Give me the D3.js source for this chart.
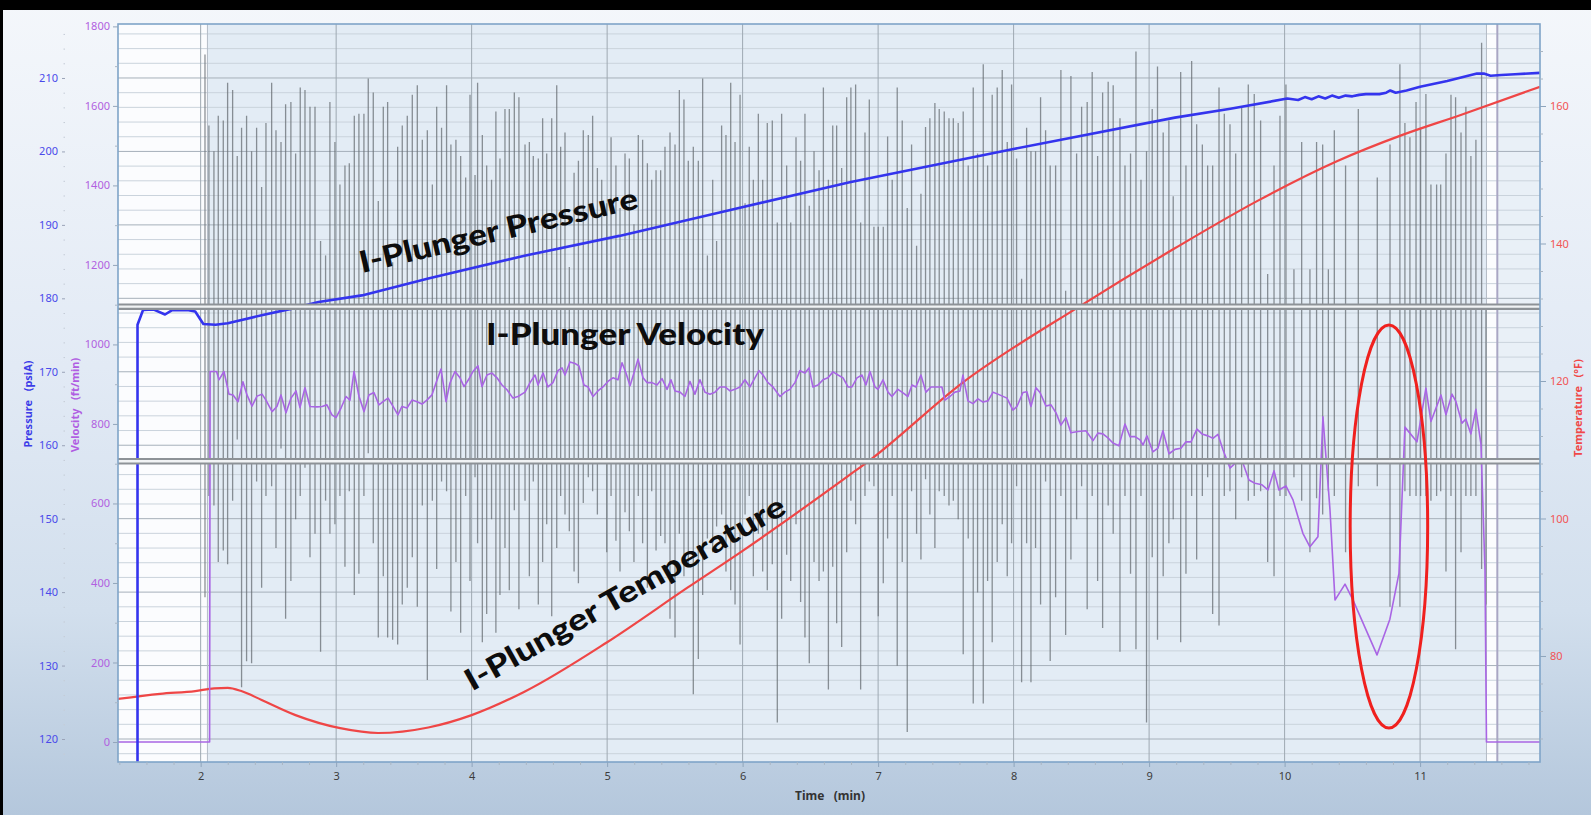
<!DOCTYPE html>
<html><head><meta charset="utf-8">
<script src="https://cdn.jsdelivr.net/npm/d3@7"></script>
<style>
body{margin:0;overflow:hidden;background:#fff}
svg{display:block}
.tick text{font-family:"Noto Sans","DejaVu Sans",sans-serif;font-size:11px}
</style>
</head><body>
<svg id="chart" width="1591" height="815"></svg>
<script>
// ---------------- DATA ----------------
const timeTicks = [2,3,4,5,6,7,8,9,10,11];
const pressureTicks = [120,130,140,150,160,170,180,190,200,210];
const velocityTicks = [0,200,400,600,800,1000,1200,1400,1600,1800];
const temperatureTicks = [80,100,120,140,160];

// Pressure (psiA) vs time (min)
const pressureData = [[1.534,116.9],[1.534,176.4],[1.575,178.4],[1.65,178.5],[1.737,177.8],[1.79,178.4],[1.9,178.4],[1.96,178.2],[2.02,176.5],[2.11,176.4],[2.2,176.6],[2.45,177.7],[2.7,178.7],[2.87,179.5],[3.19,180.4],[3.68,182.7],[4.39,185.8],[5.09,188.5],[5.83,191.7],[6.79,195.8],[7.99,200.3],[9.19,204.6],[9.6,205.8],[10.02,207.2],[10.1,207.0],[10.15,207.4],[10.2,207.1],[10.25,207.5],[10.3,207.2],[10.35,207.6],[10.4,207.3],[10.45,207.6],[10.5,207.5],[10.55,207.7],[10.6,207.8],[10.7,207.8],[10.75,208.0],[10.78,208.3],[10.82,208.0],[10.9,208.3],[11.0,208.8],[11.2,209.6],[11.42,210.6],[11.47,210.6],[11.52,210.3],[11.6,210.4],[11.7,210.5],[11.885,210.7]];

// Velocity (ft/min) vs time (min)
const velocityData = [[1.39,0],[2.066,0],[2.07,932],[2.118,932],[2.135,911],[2.172,932],[2.209,875],[2.239,873],[2.276,856],[2.312,906],[2.342,873],[2.379,845],[2.416,870],[2.453,875],[2.482,860],[2.527,831],[2.563,844],[2.593,873],[2.63,828],[2.667,865],[2.704,883],[2.733,841],[2.77,891],[2.807,844],[2.859,843],[2.896,844],[2.932,848],[2.969,823],[2.999,816],[3.036,840],[3.073,869],[3.102,860],[3.132,932],[3.169,869],[3.206,831],[3.242,873],[3.279,879],[3.316,848],[3.346,856],[3.383,865],[3.42,844],[3.456,823],[3.486,844],[3.523,840],[3.56,860],[3.597,856],[3.634,850],[3.67,860],[3.707,873],[3.737,903],[3.774,938],[3.811,856],[3.84,903],[3.877,932],[3.914,916],[3.944,894],[3.98,913],[4.01,932],[4.047,946],[4.076,894],[4.113,923],[4.15,928],[4.187,916],[4.224,898],[4.261,886],[4.305,865],[4.342,869],[4.394,880],[4.431,904],[4.468,923],[4.49,898],[4.527,928],[4.563,893],[4.6,904],[4.637,934],[4.667,941],[4.689,923],[4.726,956],[4.763,952],[4.792,946],[4.829,898],[4.859,893],[4.896,869],[4.932,883],[4.969,893],[5.006,907],[5.043,916],[5.08,911],[5.11,954],[5.139,928],[5.169,896],[5.198,928],[5.228,963],[5.265,916],[5.294,904],[5.331,904],[5.368,898],[5.405,914],[5.442,887],[5.471,911],[5.501,883],[5.538,880],[5.574,869],[5.611,907],[5.648,875],[5.685,911],[5.722,880],[5.759,875],[5.796,880],[5.833,893],[5.87,893],[5.907,883],[5.943,887],[5.98,893],[6.017,911],[6.054,893],[6.091,916],[6.121,934],[6.15,923],[6.187,904],[6.224,893],[6.276,869],[6.312,880],[6.349,887],[6.386,904],[6.423,934],[6.46,928],[6.49,941],[6.519,893],[6.556,898],[6.593,911],[6.63,916],[6.667,931],[6.704,923],[6.741,916],[6.778,893],[6.807,893],[6.844,916],[6.881,923],[6.91,898],[6.94,932],[6.977,893],[6.999,887],[7.036,911],[7.073,880],[7.102,869],[7.146,887],[7.176,880],[7.22,869],[7.25,898],[7.279,893],[7.316,923],[7.353,880],[7.39,893],[7.434,893],[7.471,893],[7.493,860],[7.53,869],[7.567,880],[7.604,883],[7.626,923],[7.663,858],[7.7,851],[7.737,863],[7.774,855],[7.811,858],[7.848,880],[7.884,875],[7.951,865],[7.995,835],[8.025,844],[8.069,879],[8.098,881],[8.128,844],[8.165,891],[8.195,879],[8.239,845],[8.276,848],[8.313,828],[8.349,797],[8.386,816],[8.423,778],[8.475,781],[8.534,783],[8.586,758],[8.622,777],[8.659,775],[8.696,765],[8.733,752],[8.777,745],[8.822,800],[8.859,768],[8.896,768],[8.933,760],[8.955,747],[8.984,770],[9.028,730],[9.065,739],[9.102,783],[9.147,725],[9.191,736],[9.235,739],[9.272,755],[9.309,755],[9.353,787],[9.39,775],[9.434,770],[9.471,764],[9.508,774],[9.545,735],[9.597,689],[9.634,701],[9.693,701],[9.737,659],[9.781,651],[9.833,647],[9.877,634],[9.922,682],[9.958,634],[10.01,644],[10.062,609],[10.098,567],[10.135,525],[10.187,491],[10.246,516],[10.283,818],[10.305,718],[10.335,584],[10.372,357],[10.446,397],[10.505,357],[10.682,219],[10.777,309],[10.844,424],[10.888,792],[10.977,755],[11.043,890],[11.08,806],[11.154,873],[11.191,823],[11.235,875],[11.265,856],[11.309,802],[11.338,812],[11.375,775],[11.412,837],[11.449,750],[11.479,433],[11.49,0],[11.885,0]];

// Temperature (°F) vs time (min)
const temperatureData = [[1.39,73.75],[1.7,74.5],[1.96,74.9],[2.1,75.3],[2.2,75.35],[2.3,74.9],[2.45,73.6],[2.7,71.4],[3.03,69.5],[3.31,68.8],[3.68,69.6],[4.0,71.4],[4.39,74.8],[5.0,82.0],[5.59,89.9],[6.0,95.3],[6.78,106.2],[6.94,108.5],[7.62,119.7],[8.49,130.9],[9.19,139.3],[9.8,146.2],[10.39,152.0],[10.87,155.8],[11.3,158.7],[11.885,162.8]];

// Gray vibration spikes: [time, high, low] on the velocity scale
const spikeData = [[2.032,1729,364],[2.061,1551,619],[2.098,1486,595],[2.13,1575,453],[2.167,1563,482],[2.199,1658,447],[2.236,1640,607],[2.27,1474,761],[2.302,1545,138],[2.339,1575,203],[2.376,1486,198],[2.413,1545,655],[2.45,1396,388],[2.482,1557,619],[2.524,1658,643],[2.556,1539,488],[2.593,1509,738],[2.627,1604,310],[2.666,1610,405],[2.701,1480,560],[2.735,1646,619],[2.77,1640,690],[2.807,1598,465],[2.844,1598,524],[2.885,1260,227],[2.922,1224,607],[2.954,1610,524],[2.991,1509,548],[3.028,1402,619],[3.065,1450,441],[3.097,1456,631],[3.134,1575,370],[3.168,1580,423],[3.205,1580,619],[3.237,1669,726],[3.274,1634,500],[3.311,1361,263],[3.348,1598,417],[3.38,1610,263],[3.417,1207,257],[3.454,1497,245],[3.488,1551,346],[3.525,1575,388],[3.562,1628,465],[3.599,1652,340],[3.636,1515,595],[3.673,1539,156],[3.71,1402,607],[3.742,1598,435],[3.778,1545,655],[3.815,1652,631],[3.847,1503,328],[3.884,1515,453],[3.919,1474,275],[3.956,1420,619],[3.988,1628,405],[4.025,1426,666],[4.044,1658,500],[4.079,1527,251],[4.111,1450,322],[4.147,1414,560],[4.179,1586,275],[4.209,1468,370],[4.246,1592,488],[4.278,1592,382],[4.315,1634,583],[4.349,1622,334],
[4.394,1503,607],[4.426,1509,417],[4.455,1474,655],[4.492,1468,346],[4.524,1569,453],[4.554,1480,548],[4.591,1569,316],[4.628,1652,488],[4.657,1497,619],[4.689,1533,572],[4.721,1195,530],[4.756,1432,429],[4.788,1462,399],[4.824,1539,601],[4.861,1527,666],[4.893,1575,631],[4.928,1444,572],[4.96,1414,702],[4.997,1355,477],[5.029,1521,619],[5.065,1450,506],[5.095,1343,429],[5.132,1480,578],[5.164,1468,530],[5.198,1302,453],[5.23,1527,619],[5.262,1515,500],[5.297,1456,388],[5.329,1414,631],[5.361,1438,482],[5.395,1438,518],[5.427,1497,500],[5.464,1533,310],[5.501,1503,263],[5.533,1640,524],[5.567,1616,417],[5.599,1462,441],[5.636,1497,120],[5.673,1462,209],[5.705,1669,370],[5.74,1224,512],[5.779,1414,477],[5.808,1260,542],[5.845,1551,572],[5.877,1527,429],[5.912,1658,382],[5.944,1509,346],[5.981,1628,245],[6.018,1355,572],[6.049,1497,619],[6.079,1414,417],[6.116,1580,524],[6.148,1414,429],[6.182,1557,382],[6.219,1563,447],[6.256,1307,49],[6.288,1580,310],[6.325,1450,471],[6.355,1307,405],[6.394,1521,548],[6.428,1462,352],[6.46,1580,263],[6.492,1349,198],[6.527,1486,453],[6.564,1438,405],[6.596,1646,429],[6.633,1414,132],[6.665,1551,441],[6.694,1551,299],[6.731,1444,239],[6.768,1622,477],
[6.799,1646,607],[6.834,1654,548],[6.871,1307,132],[6.903,1533,619],[6.935,1616,655],[6.969,1296,643],[7.001,1296,316],[7.038,1296,399],[7.07,1523,512],[7.104,1414,619],[7.141,1646,192],[7.178,1563,453],[7.215,1343,25],[7.247,1503,631],[7.284,1248,524],[7.316,1379,459],[7.35,1547,661],[7.382,1569,572],[7.419,1607,488],[7.451,1592,631],[7.488,1586,619],[7.523,1569,595],[7.555,1569,607],[7.591,1557,560],[7.628,1586,221],[7.665,1450,512],[7.702,1646,97],[7.734,1480,376],[7.776,1705,97],[7.808,1450,405],[7.842,1628,251],[7.879,1646,453],[7.916,1690,548],[7.953,1509,417],[7.985,1654,500],[8.022,1468,643],[8.059,1165,150],[8.096,1545,500],[8.128,1486,150],[8.162,1486,488],[8.199,1622,346],[8.236,1539,655],[8.27,1450,204],[8.31,1450,364],[8.349,1690,619],[8.384,1135,269],[8.423,1675,459],[8.465,1480,560],[8.502,1598,643],[8.543,1610,334],[8.58,1685,619],[8.62,1474,405],[8.657,1634,287],[8.698,1661,595],[8.735,1652,524],[8.785,1569,227],[8.822,1450,619],[8.863,1480,423],[8.903,1737,233],[8.94,1414,619],[8.981,1486,49],[9.023,1592,465],[9.062,1699,257],[9.104,1533,417],[9.146,1563,500],[9.178,1373,560],
[9.233,1685,251],[9.272,1450,423],[9.314,1713,619],[9.351,1554,459],[9.393,1503,619],[9.432,1450,666],[9.469,1450,322],[9.516,1646,293],[9.555,1580,619],[9.597,1554,631],[9.639,1480,560],[9.683,1595,666],[9.732,1654,607],[9.776,1630,619],[9.823,1563,631],[9.875,1177,453],[9.922,1450,417],[9.966,1575,619],[10.01,1654,619],[10.069,1189,666],[10.126,1509,607],[10.187,1189,477],[10.236,1509,613],[10.281,1503,572],[10.323,1189,631],[10.367,1539,619],[10.45,1450,477],[10.544,1592,643],[10.684,1420,643],[10.778,1503,340],[10.851,1705,340],[10.888,1557,631],[10.925,1521,619],[10.97,1610,619],[11.004,1545,619],[11.043,1630,619],[11.08,1402,607],[11.122,1402,619],[11.152,1402,631],[11.191,1480,429],[11.228,1628,619],[11.262,1622,233],[11.302,1533,477],[11.338,1598,619],[11.375,1474,619],[11.412,1515,619],[11.454,1759,435],[11.486,1094,346]];

// Active (shaded) period and event markers (min)
const activePeriod = [2.05, 11.49];
const afterPeriod = [11.57, 11.885];
const eventMarkers = [2.05, 11.49, 11.57];
// Panel dividers on velocity scale (ft/min)
const dividerLevels = [1095, 706];

const annotationLabels = ["I-Plunger Pressure", "I-Plunger Velocity", "I-Plunger Temperature"];
const annotationTimes = [3.191, 4.106, 4.003];
const annotationValues = [183.45, 999, 74.84];
const annotationAxes = ["pressure", "velocity", "temperature"];

// Highlighted velocity dip (time, velocity, half-width in min, half-height in ft/min)
const highlight = {t: 10.77, v: 542, dt: 0.286, dv: 507};

// ---------------- LAYOUT ----------------
const W = 1591, H = 815;
const P = {left:118, top:24, right:1540, bottom:762};
const x = d3.scaleLinear().domain([1.39, 11.885]).range([P.left, P.right]);
const yP = d3.scaleLinear().domain([116.87, 217.35]).range([P.bottom, P.top]);
const yV = d3.scaleLinear().domain([-50.3, 1806]).range([P.bottom, P.top]);
const yT = d3.scaleLinear().domain([64.58, 171.93]).range([P.bottom, P.top]);
const scaleOf = {pressure: yP, velocity: yV, temperature: yT};

const svg = d3.select("#chart");
const defs = svg.append("defs");
const grad = defs.append("linearGradient").attr("id","bg").attr("x1",0).attr("y1",0).attr("x2",0).attr("y2",1);
[[0,"#f4f7fb"],[0.45,"#e2eaf5"],[0.75,"#d2dfed"],[1,"#b4c7dc"]].forEach(([o,c]) => grad.append("stop").attr("offset",o).attr("stop-color",c));
defs.append("clipPath").attr("id","clip").append("rect")
  .attr("x",P.left).attr("y",P.top).attr("width",P.right-P.left).attr("height",P.bottom-P.top);

svg.append("rect").attr("width",W).attr("height",H).attr("fill","url(#bg)");
svg.append("rect").attr("width",W).attr("height",10).attr("fill","#000");
svg.append("rect").attr("width",3).attr("height",H).attr("fill","#000");

// plot background
const plotG = svg.append("g").attr("clip-path","url(#clip)");
plotG.append("rect").attr("x",P.left).attr("y",P.top).attr("width",P.right-P.left).attr("height",P.bottom-P.top).attr("fill","#fbfcfe");
plotG.append("rect").attr("x",x(activePeriod[0])).attr("y",P.top).attr("width",x(activePeriod[1])-x(activePeriod[0])).attr("height",P.bottom-P.top).attr("fill","#e3ecf5");
plotG.append("rect").attr("x",x(afterPeriod[0])).attr("y",P.top).attr("width",x(afterPeriod[1])-x(afterPeriod[0])).attr("height",P.bottom-P.top).attr("fill","#e9f0f7");

// horizontal grid (pressure, every 2 / 10 psi)
const pGrid = yP.ticks(50);
plotG.selectAll(".hgrid").data(pGrid).join("line")
  .attr("x1",P.left).attr("x2",P.right)
  .attr("y1",d=>yP(d)).attr("y2",d=>yP(d))
  .attr("stroke",d=> d%10===0 ? "#a6b0ba" : "#cad3dc")
  .attr("stroke-width",1);
// vertical grid
plotG.selectAll(".vgrid").data(timeTicks).join("line")
  .attr("x1",d=>x(d)).attr("x2",d=>x(d)).attr("y1",P.top).attr("y2",P.bottom)
  .attr("stroke","#9ea8b2").attr("stroke-width",1);
// event markers
plotG.selectAll(".evt").data(eventMarkers).join("line")
  .attr("x1",d=>x(d)).attr("x2",d=>x(d)).attr("y1",P.top).attr("y2",P.bottom)
  .attr("stroke",(d,i)=> i===2 ? "#a9a6c4" : "#b4bcc6").attr("stroke-width",(d,i)=> i===2 ? 2 : 1);

// spikes
plotG.selectAll(".spike").data(spikeData).join("line")
  .attr("x1",d=>x(d[0])).attr("x2",d=>x(d[0]))
  .attr("y1",d=>yV(d[1])).attr("y2",d=>yV(d[2]))
  .attr("stroke","#676d73").attr("stroke-opacity",0.75).attr("stroke-width",1.3);

// series lines
const line = (ys) => d3.line().x(d=>x(d[0])).y(d=>ys(d[1]));
plotG.append("path").datum(temperatureData).attr("d", line(yT).curve(d3.curveMonotoneX))
  .attr("fill","none").attr("stroke","#ef4646").attr("stroke-width",2.2);
plotG.append("path").datum(velocityData).attr("d", line(yV))
  .attr("fill","none").attr("stroke","#a965e4").attr("stroke-width",1.6).attr("stroke-linejoin","round");
plotG.append("path").datum(pressureData).attr("d", line(yP))
  .attr("fill","none").attr("stroke","#3434ee").attr("stroke-width",2.6).attr("stroke-linejoin","round");

// dividers
dividerLevels.forEach(v => {
  plotG.append("line").attr("x1",P.left).attr("x2",P.right).attr("y1",yV(v)).attr("y2",yV(v))
    .attr("stroke","#8d9297").attr("stroke-width",6.5);
  plotG.append("line").attr("x1",P.left).attr("x2",P.right).attr("y1",yV(v)).attr("y2",yV(v))
    .attr("stroke","#f1f3f5").attr("stroke-width",2.4);
});

// plot border
svg.append("rect").attr("x",P.left).attr("y",P.top).attr("width",P.right-P.left).attr("height",P.bottom-P.top)
  .attr("fill","none").attr("stroke","#7fa4c8").attr("stroke-width",1.6);

// ---------------- AXES ----------------
function styleAxis(g, color, lineColor){
  g.select(".domain").remove();
  g.selectAll(".tick line").attr("stroke", lineColor);
  g.selectAll(".tick text").attr("fill", color);
}
// pressure
svg.append("g").attr("transform","translate(65,0)")
  .call(d3.axisLeft(yP).tickValues(pressureTicks).tickSize(3).tickPadding(4).tickFormat(d3.format("d")))
  .call(g=>styleAxis(g,"#4a4aea","#9aa3b8"));
svg.append("g").attr("transform","translate(65,0)")
  .call(d3.axisLeft(yP).tickValues(yP.ticks(50).filter(d=>d%10!==0)).tickSize(1.5).tickFormat(""))
  .call(g=>styleAxis(g,"#000","#c4cbd6"));
// velocity
svg.append("g").attr("transform",`translate(${P.left},0)`)
  .call(d3.axisLeft(yV).tickValues(velocityTicks).tickSize(5).tickPadding(3).tickFormat(d3.format("d")))
  .call(g=>styleAxis(g,"#b161e0","#93a6bb"));
svg.append("g").attr("transform",`translate(${P.left},0)`)
  .call(d3.axisLeft(yV).tickValues(yV.ticks(20).filter(d=>d%200!==0)).tickSize(3).tickFormat(""))
  .call(g=>styleAxis(g,"#000","#a9b6c4"));
// temperature
svg.append("g").attr("transform",`translate(${P.right},0)`)
  .call(d3.axisRight(yT).tickValues(temperatureTicks).tickSize(6).tickPadding(4).tickFormat(d3.format("d")))
  .call(g=>styleAxis(g,"#f25555","#8ea5bd"));
svg.append("g").attr("transform",`translate(${P.right},0)`)
  .call(d3.axisRight(yT).tickValues(d3.range(68,172,4).filter(d=>d%20!==0)).tickSize(3).tickFormat(""))
  .call(g=>styleAxis(g,"#000","#a9b6c4"));
// time
svg.append("g").attr("transform",`translate(0,${P.bottom})`)
  .call(d3.axisBottom(x).tickValues(timeTicks).tickSize(5).tickPadding(5).tickFormat(d3.format("d")))
  .call(g=>styleAxis(g,"#3c3c3c","#8ea5bd"));
svg.append("g").attr("transform",`translate(0,${P.bottom})`)
  .call(d3.axisBottom(x).tickValues(x.ticks(50).filter(d=>Math.abs(d-Math.round(d))>1e-6)).tickSize(3).tickFormat(""))
  .call(g=>styleAxis(g,"#000","#a9b6c4"));

// axis titles
const titleFont = "bold 11px 'Noto Sans', 'DejaVu Sans', sans-serif";
function vTitle(txt, cx, cy, color){
  svg.append("text").attr("transform",`translate(${cx},${cy}) rotate(-90)`)
    .attr("text-anchor","middle").attr("dominant-baseline","central")
    .style("font",titleFont).style("white-space","pre").attr("fill",color).text(txt);
}
vTitle("Pressure   (psiA)", 27, 404, "#3c3ce8");
vTitle("Velocity   (ft/min)", 74, 405, "#b05de2");
vTitle("Temperature   (°F)", 1577, 408, "#f04848");
svg.append("text").attr("x",830).attr("y",800).attr("text-anchor","middle")
  .style("font","bold 12px 'Noto Sans', 'DejaVu Sans', sans-serif").style("white-space","pre")
  .attr("fill","#333").text("Time   (min)");

// ---------------- ANNOTATIONS ----------------
const annStyle = [{angle:-13.2, len:285},{angle:0, len:278},{angle:-29.5, len:363}];
svg.selectAll(".ann").data(annotationLabels).join("text")
  .attr("transform",(d,i)=>`translate(${x(annotationTimes[i])},${scaleOf[annotationAxes[i]](annotationValues[i])}) rotate(${annStyle[i].angle})`)
  .attr("textLength",(d,i)=>annStyle[i].len).attr("lengthAdjust","spacingAndGlyphs")
  .style("font-family","Lato, 'Noto Sans', sans-serif").style("font-weight",900).style("font-size","30px")
  .attr("fill","#0d0d0d").text(d=>d);

svg.append("ellipse")
  .attr("cx",x(highlight.t)).attr("cy",yV(highlight.v))
  .attr("rx",x(highlight.t+highlight.dt)-x(highlight.t))
  .attr("ry",yV(highlight.v-highlight.dv)-yV(highlight.v))
  .attr("fill","none").attr("stroke","#f0201e").attr("stroke-width",3);
</script>
</body></html>
